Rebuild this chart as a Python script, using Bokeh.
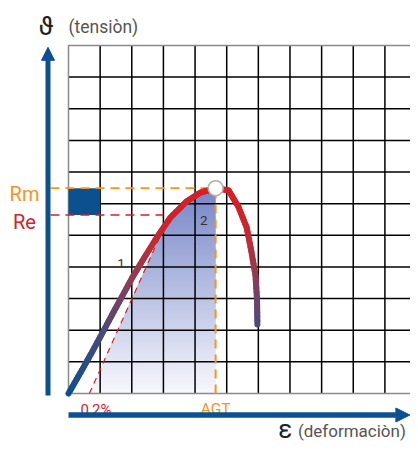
import numpy as np
from bokeh.plotting import figure
from bokeh.models import Range1d, Arrow, NormalHead
from bokeh.core.properties import value
from bokeh.embed import file_html
from bokeh.resources import INLINE

# ---------------- data (grid units) ----------------
curve_x = [0.0, 0.38, 0.70, 1.01, 1.33, 1.64, 2.02, 2.40, 2.81, 3.22, 3.73, 4.17,
           4.65, 5.06, 5.37, 5.63, 5.78, 5.91, 5.96, 5.97]
curve_y = [0.0, 0.66, 1.23, 1.80, 2.40, 2.97, 3.67, 4.30, 4.96, 5.56, 6.07, 6.35,
           6.49, 6.42, 5.90, 5.25, 4.49, 3.73, 2.94, 2.18]
peak_index = 12
rm_value = 6.49
re_value = 5.64
agt_strain = 4.65
offset_x = [0.66, 3.00]
offset_y = [0.00, 5.21]
n_cells = 11

# ---------------- styling ----------------
BLUE = "#0b5190"
ORANGE = "#f7941d"
RED = "#d0232a"
FONT = value("Roboto")

p = figure(width=410, height=444, x_range=Range1d(-2.149, 10.809),
           y_range=Range1d(-1.612, 12.421), output_backend="svg",
           toolbar_location=None, x_axis_location=None, y_axis_location=None,
           min_border=0)
p.grid.visible = False
p.outline_line_color = None
p.background_fill_color = "white"
p.border_fill_color = "white"

# ---------------- shaded area (vertical gradient) ----------------
rise_x = np.array(curve_x[:peak_index + 1])
rise_y = np.array(curve_y[:peak_index + 1])
edges = np.linspace(0, rm_value, 160)
mids = (edges[:-1] + edges[1:]) / 2
left = np.maximum(np.interp(mids, offset_y, offset_x), np.interp(mids, rise_y, rise_x))
top_rgb = np.array([118, 134, 199])
bot_rgb = np.array([248, 248, 253])
cols = []
for m in mids:
    t = m / rm_value
    c = bot_rgb + (top_rgb - bot_rgb) * t
    cols.append("#%02x%02x%02x" % tuple(int(round(v)) for v in c))
p.quad(left=left, right=agt_strain, bottom=edges[:-1], top=edges[1:] + 0.025,
       fill_color=cols, line_color=None)

# ---------------- grid ----------------
inner = list(range(1, n_cells))
p.segment(x0=inner, y0=0, x1=inner, y1=n_cells, line_color="black", line_width=1.5)
p.segment(x0=0, y0=inner, x1=n_cells, y1=inner, line_color="black", line_width=1.5)
p.quad(left=0, right=n_cells, bottom=0, top=n_cells, fill_color=None,
       line_color="#8a8a8a", line_width=1.5)

# blue square between Re and Rm
p.quad(left=0, right=1, bottom=re_value, top=rm_value, fill_color=BLUE, line_color=None)

# ---------------- dashed reference lines ----------------
p.line(x=[-0.57, agt_strain], y=[rm_value, rm_value], line_color=ORANGE,
       line_width=1.6, line_dash="9 6")
p.line(x=[-0.57, offset_x[1]], y=[re_value, re_value], line_color=RED,
       line_width=1.4, line_dash="9 6")
p.line(x=[agt_strain, agt_strain], y=[0, rm_value], line_color=ORANGE,
       line_width=2, line_dash="9 6")
p.line(x=offset_x, y=offset_y, line_color=RED, line_width=1.2, line_dash="6 5")

# ---------------- stress-strain curve with colour gradient ----------------
stop_y = [0.0, 2.2, 3.6, 4.8, 5.8]
stop_rgb = np.array([(10, 80, 145), (82, 74, 122), (142, 60, 88), (192, 44, 54), (212, 32, 38)])

def col_at(y):
    r = np.interp(y, stop_y, stop_rgb[:, 0])
    g = np.interp(y, stop_y, stop_rgb[:, 1])
    b = np.interp(y, stop_y, stop_rgb[:, 2])
    return "#%02x%02x%02x" % (int(r), int(g), int(b))

x0s, y0s, x1s, y1s, segc = [], [], [], [], []
for i in range(len(curve_x) - 1):
    ax, ay, bx, by = curve_x[i], curve_y[i], curve_x[i + 1], curve_y[i + 1]
    k = 6
    for j in range(k):
        t0, t1 = j / k, (j + 1) / k
        sx0, sy0 = ax + (bx - ax) * t0, ay + (by - ay) * t0
        sx1, sy1 = ax + (bx - ax) * t1, ay + (by - ay) * t1
        x0s.append(sx0); y0s.append(sy0); x1s.append(sx1); y1s.append(sy1)
        segc.append(col_at((sy0 + sy1) / 2))
p.segment(x0=x0s, y0=y0s, x1=x1s, y1=y1s, line_color=segc, line_width=6,
          line_cap="round")

# peak marker
p.scatter(x=[curve_x[peak_index]], y=[curve_y[peak_index]], size=15,
          fill_color="white", line_color="#b0b0b0", line_width=1.5)

# ---------------- texts ----------------
p.text(x=[-0.711], y=[11.63], text=["ϑ"], text_font=FONT, text_font_size="26px",
       text_color="#222222", text_align="center", text_baseline="middle")
p.text(x=[0.0], y=[11.58], text=["(tensiòn)"], text_font=FONT, text_font_size="17.5px",
       text_color="#555555", text_align="left", text_baseline="middle")
p.text(x=[6.85], y=[-1.11], text=["ε"], text_font=FONT, text_font_size="26px",
       text_color="#222222", text_align="center", text_baseline="middle")
p.text(x=[7.25], y=[-1.17], text=["(deformaciòn)"], text_font=FONT,
       text_font_size="17px", text_color="#555555", text_align="left",
       text_baseline="middle")
p.text(x=[-1.39], y=[6.305], text=["Rm"], text_font=FONT, text_font_size="20px",
       text_color=ORANGE, text_align="center", text_baseline="alphabetic")
p.text(x=[-1.39], y=[5.414], text=["Re"], text_font=FONT, text_font_size="20px",
       text_color=RED, text_align="center", text_baseline="alphabetic")
p.text(x=[0.87], y=[-0.52], text=["0,2%"], text_font=FONT, text_font_size="15px",
       text_color=RED, text_align="center", text_baseline="alphabetic")
p.text(x=[agt_strain], y=[-0.49], text=["AGT"], text_font=FONT, text_font_size="15.5px",
       text_color=ORANGE, text_align="center", text_baseline="alphabetic")
p.text(x=[1.66], y=[4.11], text=["1"], text_font=FONT, text_font_size="13.5px",
       text_color="#333333", text_align="center", text_baseline="alphabetic")
p.text(x=[4.28], y=[5.47], text=["2"], text_font=FONT, text_font_size="13.5px",
       text_color="#333333", text_align="center", text_baseline="alphabetic")

# ---------------- axis arrows ----------------
p.add_layout(Arrow(end=NormalHead(size=13, fill_color=BLUE, line_color=BLUE),
                   x_start=-0.648, y_start=-0.06, x_end=-0.648, y_end=10.94,
                   line_color=BLUE, line_width=5))
p.add_layout(Arrow(end=NormalHead(size=14, fill_color=BLUE, line_color=BLUE),
                   x_start=0.0, y_start=-0.68, x_end=10.79, y_end=-0.68,
                   line_color=BLUE, line_width=5.5))

open("out.html", "w").write(file_html(p, INLINE))
